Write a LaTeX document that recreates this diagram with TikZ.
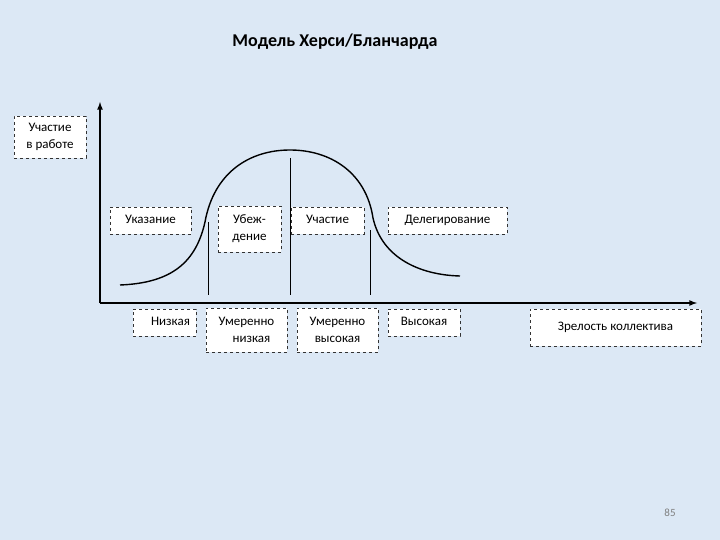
\documentclass[tikz,border=0pt]{standalone}
\usepackage{fontspec}
\setmainfont{Carlito}
\definecolor{bgc}{HTML}{DCE8F5}
\begin{document}
\begin{tikzpicture}[x=1pt,y=-1pt,
 box/.style={draw=black!80,dashed,fill=white,inner sep=0pt,font=\fontsize{13}{17}\selectfont,align=center},
 one/.style={box,text height=9pt,text depth=3pt},
 ax/.style={line width=1.6pt,-latex},
 vl/.style={line width=0.8pt}]
\fill[bgc] (0,0) rectangle (720,540);
\useasboundingbox (0,0) rectangle (720,540);
\node[font=\bfseries\fontsize{18}{20}\selectfont] (title) at (335,42) {Модель Херси/Бланчарда};
\node[box,minimum width=72,minimum height=42] (yl) at (50,137) {Участие\\в работе};
\node[one,minimum width=81,minimum height=27] (s1) at (150.5,220.5) {Указание};
\node[box,minimum width=63,minimum height=46] (s2) at (249.5,229) {Убеж-\\дение};
\node[one,minimum width=73,minimum height=27] (s3) at (327.5,220.5) {Участие};
\node[one,minimum width=119,minimum height=27] (s4) at (447.5,220.5) {Делегирование};
\node[one,minimum width=63,minimum height=27] (m1) at (164.5,322.5) {\hspace*{12pt}Низкая};
\node[box,minimum width=81,minimum height=44] (m2) at (246.5,330) {Умеренно\\\hspace*{10pt}низкая};
\node[box,minimum width=81,minimum height=44] (m3) at (337.5,330) {Умеренно\\высокая};
\node[one,minimum width=72,minimum height=27] (m4) at (424,322.5) {Высокая};
\node[one,minimum width=171,minimum height=37] (xl) at (615.5,327.5) {Зрелость коллектива};
\coordinate (o) at (100,303);
\coordinate (ytop) at (100,102);
\coordinate (xend) at (697,303);
\draw[ax] (o) -- (ytop);
\draw[ax] (o) -- (xend);
\coordinate (c0) at (120,285);
\coordinate (c1) at (205,222);
\coordinate (c2) at (290,150);
\coordinate (c3) at (373,218);
\coordinate (c4) at (460,276);
\draw[line width=1.4pt] (c0) .. controls (172,283) and (196,262) .. (c1)
 .. controls (214,172) and (250,150) .. (c2)
 .. controls (330,150) and (366,172) .. (c3)
 .. controls (382,258) and (420,275) .. (c4);
\coordinate (v1a) at (208,222); \coordinate (v1b) at (208,295);
\coordinate (v2a) at (290,158); \coordinate (v2b) at (290,295);
\coordinate (v3a) at (370,230); \coordinate (v3b) at (370,295);
\draw[vl] (v1a) -- (v1b);
\draw[vl] (v2a) -- (v2b);
\draw[vl] (v3a) -- (v3b);
\node[text=black!50,font=\fontsize{11}{12}\selectfont] (pg) at (670,513) {85};
\end{tikzpicture}
\end{document}
